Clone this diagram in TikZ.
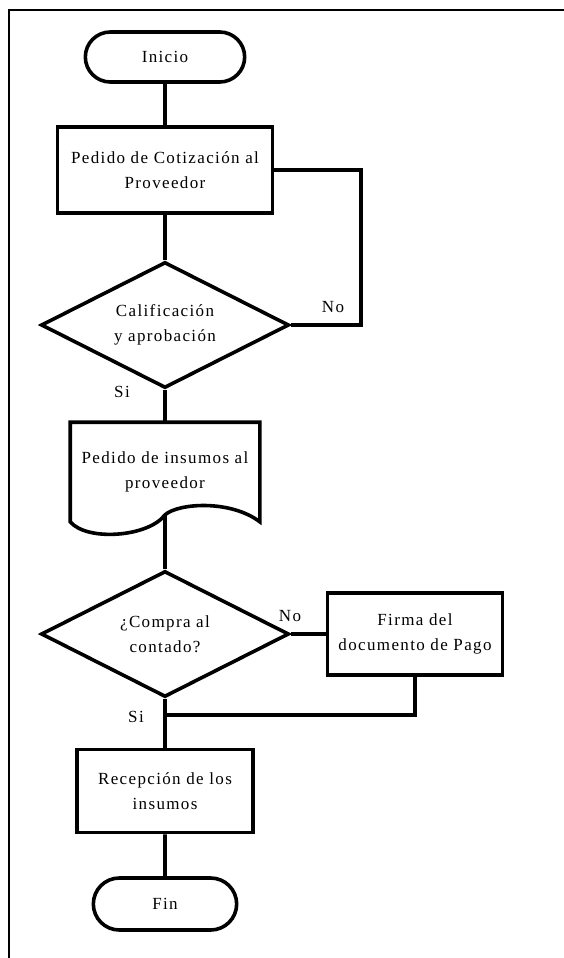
\documentclass[tikz,border=0pt]{standalone}
\usepackage{fontspec}
\setmainfont[LetterSpace=8]{Liberation Serif}
\usepackage{tikz}
\usetikzlibrary{shapes.geometric,shapes.misc}

\begin{document}
\begin{tikzpicture}[x=1pt,y=-1pt,line width=3.6pt,font=\fontsize{17}{25}\selectfont]
    \tikzstyle{label}=[text=black,inner sep=0pt]
    \tikzstyle{terminal}=[draw,rounded rectangle,minimum width=166pt,minimum height=50pt,text=black]
    \tikzstyle{process}=[draw,rectangle,align=center,text=black,inner sep=0pt]
    \tikzstyle{decision}=[draw,diamond,aspect=2,align=center,inner sep=0pt,
                          minimum width=248pt,minimum height=126pt,text=black]

    \useasboundingbox (0,0) rectangle (564,958);
    \draw[line width=2.4pt] (9,958) -- (9,10) -- (564,10);

    \node[terminal]                                      (ini) at (165,57)  {Inicio};
    \node[process,minimum width=215pt,minimum height=86pt] (cot) at (165,170) {Pedido de Cotización al\\Proveedor};
    \node[decision]                                      (cal) at (165,325) {Calificación\\y aprobación};
    \node[process,draw=none,minimum width=186pt,minimum height=96pt] (ped) at (165,472) {Pedido de insumos al\\proveedor};
    \node[decision]                                      (com) at (165,634) {¿Compra al\\contado?};
    \node[process,minimum width=175pt,minimum height=82pt] (fir) at (415,634) {Firma del\\documento de Pago};
    \node[process,minimum width=176pt,minimum height=83pt] (rec) at (165,791) {Recepción de los\\insumos};
    \node[terminal,minimum width=150pt,minimum height=52pt] (fin) at (165,904) {Fin};

    \node[label] (no1) at (333,307) {No};
    \node[label] (si1) at (122,392) {Si};
    \node[label] (no2) at (290,616) {No};
    \node[label] (si2) at (136,717) {Si};

    % documento con borde ondulado
    \draw (ped.north west) -- (ped.north east) -- (ped.south east)
      .. controls +(-29,-22) and +(14,-12) .. ([yshift=7pt]ped.south) coordinate (pedw)
      .. controls +(-16,22) and +(17,20) .. (ped.south west) -- cycle;

    \coordinate (lazo) at (361,0);
    \coordinate (union) at (165,715);

    \draw (ini) -- (cot);
    \draw (cot) -- (cal);
    \draw (cot.east) -- (cot.east -| lazo) |- (cal.east);
    \draw (cal.south) -- (ped.north);
    \draw (pedw) -- (com.north);
    \draw (com.east) -- (fir.west);
    \draw (fir.south) |- (union);
    \draw (com.south) -- (rec.north);
    \draw (rec) -- (fin);
\end{tikzpicture}
\end{document}
